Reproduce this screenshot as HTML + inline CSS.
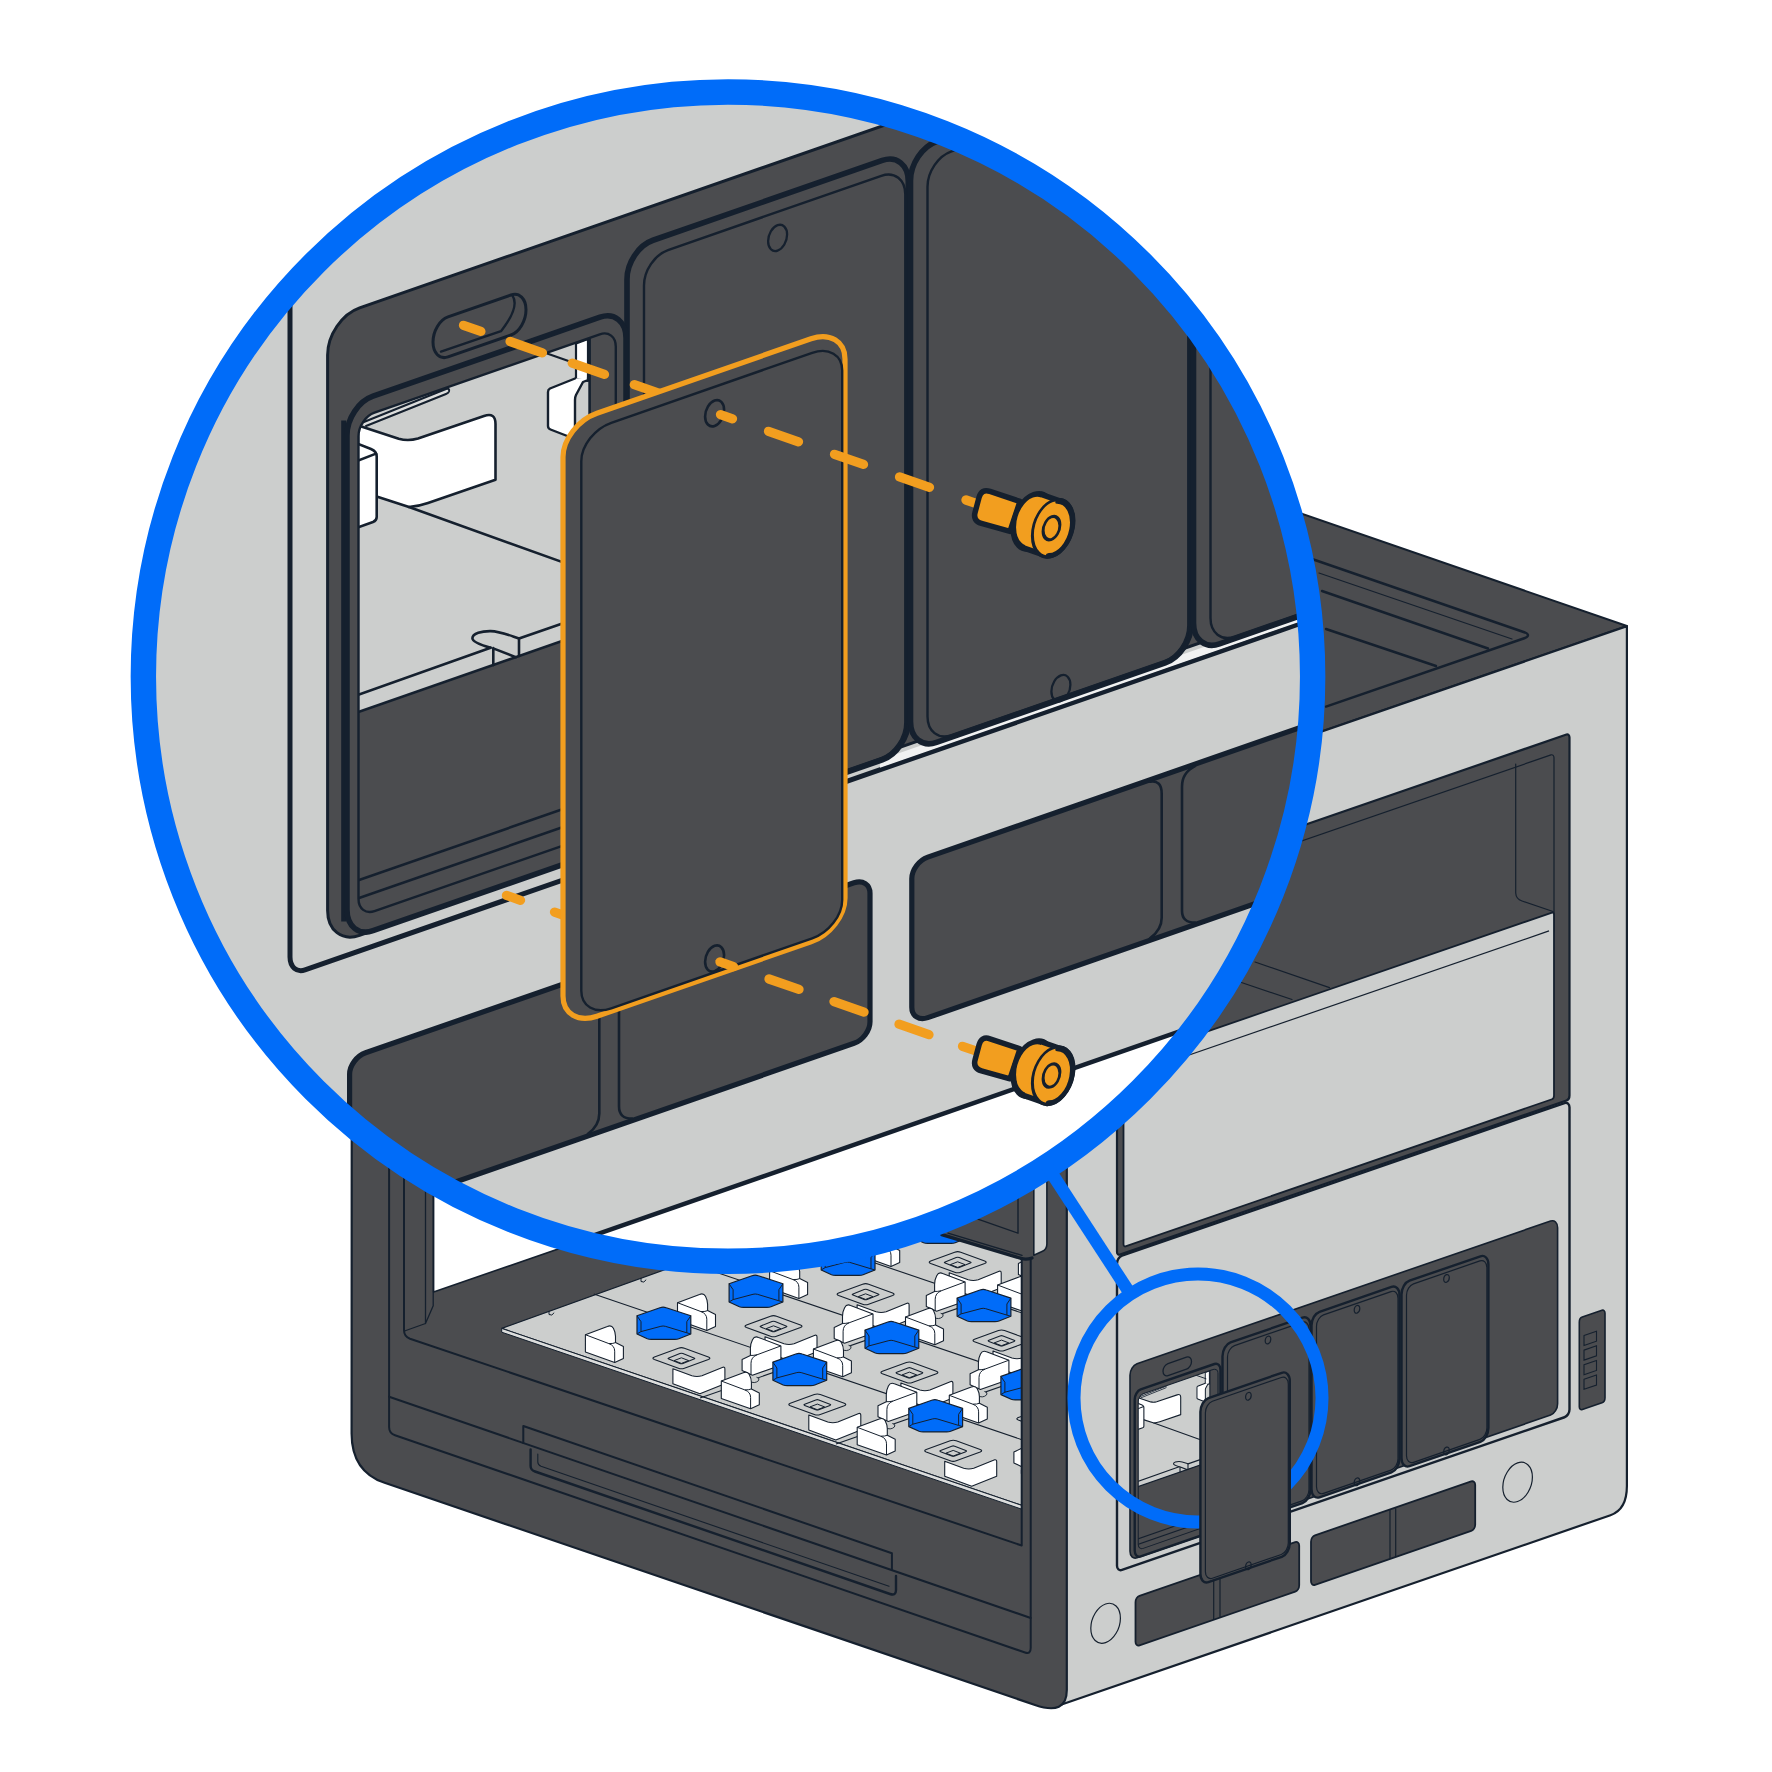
<!DOCTYPE html>
<html><head><meta charset="utf-8"><title>Remove filler</title>
<style>html,body{margin:0;padding:0;background:#fff;font-family:"Liberation Sans",sans-serif}svg{display:block}</style>
</head><body>
<svg width="1772" height="1772" viewBox="0 0 1772 1772">
<rect width="1772" height="1772" fill="#fff"/>
<defs><clipPath id="bclip"><rect x="358.5" y="543" width="257.3" height="498.5" rx="16" ry="18"/></clipPath></defs>
<polygon points="912.7,379.4 1626.9,626.0 1066.8,819.4 352.0,572.8" fill="#4b4c4f" stroke="#15202e" stroke-width="2" stroke-linejoin="round" />
<path d="M1312,559 L1525,632.5 Q1531,635 1525,638 L1326,706.6" fill="none" stroke="#15202e" stroke-width="2.4" stroke-linejoin="round" stroke-linecap="round" vector-effect="non-scaling-stroke" />
<path d="M1319,573 L1512,639" fill="none" stroke="#15202e" stroke-width="1.2" stroke-linejoin="round" stroke-linecap="round" vector-effect="non-scaling-stroke" />
<path d="M1322,591 L1488,648.5" fill="none" stroke="#15202e" stroke-width="2.4" stroke-linejoin="round" stroke-linecap="round" vector-effect="non-scaling-stroke" />
<path d="M1326,629 L1436,666" fill="none" stroke="#15202e" stroke-width="2.4" stroke-linejoin="round" stroke-linecap="round" vector-effect="non-scaling-stroke" />
<path d="M1066.8,819.4 L1626.9,626.2 L1626.9,1486 Q1626.9,1509.5 1610.5,1515.2 L1058,1705.8 Z" fill="#cccecd" stroke="#15202e" stroke-width="2.2" stroke-linejoin="round" stroke-linecap="round" vector-effect="non-scaling-stroke" />
<g transform="matrix(1,-0.345,0,1,0,0)">
<rect x="1117.0" y="1275.0" width="452.5" height="366.0" rx="3" ry="4" fill="#4b4c4f" stroke="#15202e" stroke-width="2.2" vector-effect="non-scaling-stroke" />
<rect x="1123.5" y="1290.0" width="430.5" height="180.0" rx="3" ry="4" fill="none" stroke="#15202e" stroke-width="1.2" vector-effect="non-scaling-stroke" />
<rect x="1123.5" y="1448.0" width="430.5" height="186.7" rx="2" ry="3" fill="#cccecd" stroke="#15202e" stroke-width="1.8" vector-effect="non-scaling-stroke" />
<line x1="1124.0" y1="1465.3" x2="1549.0" y2="1465.3" stroke="#15202e" stroke-width="1.2" vector-effect="non-scaling-stroke" />
<rect x="1117.0" y="1642.8" width="452.5" height="314.2" rx="5" ry="6" fill="#cccecd" stroke="#15202e" stroke-width="2.4" vector-effect="non-scaling-stroke" />
<rect x="1130.0" y="1756.0" width="427.6" height="194.0" rx="7" ry="9" fill="#4b4c4f" stroke="#15202e" stroke-width="1.6" vector-effect="non-scaling-stroke" />
<rect x="1222.5" y="1767.0" width="88.0" height="185.5" rx="8" ry="11" fill="#4b4c4f" stroke="#15202e" stroke-width="2.4" vector-effect="non-scaling-stroke" /><rect x="1227.5" y="1771.5" width="81.5" height="178.5" rx="7" ry="9" fill="none" stroke="#15202e" stroke-width="1.2" vector-effect="non-scaling-stroke" /><ellipse cx="1268.0" cy="1777.5" rx="2.8" ry="3.8" fill="none" stroke="#15202e" stroke-width="1.2" vector-effect="non-scaling-stroke" /><ellipse cx="1268.0" cy="1950.0" rx="2.8" ry="3.8" fill="none" stroke="#15202e" stroke-width="1.2" vector-effect="non-scaling-stroke" />
<rect x="1311.5" y="1767.0" width="88.0" height="185.5" rx="8" ry="11" fill="#4b4c4f" stroke="#15202e" stroke-width="2.4" vector-effect="non-scaling-stroke" /><rect x="1316.5" y="1771.5" width="81.5" height="178.5" rx="7" ry="9" fill="none" stroke="#15202e" stroke-width="1.2" vector-effect="non-scaling-stroke" /><ellipse cx="1357.0" cy="1777.5" rx="2.8" ry="3.8" fill="none" stroke="#15202e" stroke-width="1.2" vector-effect="non-scaling-stroke" /><ellipse cx="1357.0" cy="1950.0" rx="2.8" ry="3.8" fill="none" stroke="#15202e" stroke-width="1.2" vector-effect="non-scaling-stroke" />
<rect x="1401.5" y="1767.0" width="86.9" height="185.5" rx="8" ry="11" fill="#4b4c4f" stroke="#15202e" stroke-width="2.4" vector-effect="non-scaling-stroke" /><rect x="1406.5" y="1771.5" width="80.4" height="178.5" rx="7" ry="9" fill="none" stroke="#15202e" stroke-width="1.2" vector-effect="non-scaling-stroke" /><ellipse cx="1446.5" cy="1777.5" rx="2.8" ry="3.8" fill="none" stroke="#15202e" stroke-width="1.2" vector-effect="non-scaling-stroke" /><ellipse cx="1446.5" cy="1950.0" rx="2.8" ry="3.8" fill="none" stroke="#15202e" stroke-width="1.2" vector-effect="non-scaling-stroke" />
<rect x="1134.7" y="1783.0" width="85.8" height="167.0" rx="6" ry="8" fill="#4b4c4f" stroke="#15202e" stroke-width="2.4" vector-effect="non-scaling-stroke" />
</g>
<g transform="translate(1027.1,1265.9) scale(0.31)">
<g transform="matrix(1,-0.348,0,1,0,0)">
<g clip-path="url(#bclip)">
<rect x="350" y="530" width="280" height="306.6" fill="#cccecd"/>
<rect x="350" y="836.6" width="280" height="230" fill="#4b4c4f"/>
<line x1="350.0" y1="836.6" x2="630.0" y2="836.6" stroke="#15202e" stroke-width="1.092" vector-effect="non-scaling-stroke" />
<line x1="350.0" y1="1005.0" x2="630.0" y2="1005.0" stroke="#15202e" stroke-width="1.092" vector-effect="non-scaling-stroke" />
<line x1="350.0" y1="1023.0" x2="630.0" y2="1023.0" stroke="#15202e" stroke-width="1.092" vector-effect="non-scaling-stroke" />
</g></g>
<g clip-path="url(#bclip)" transform="matrix(1,-0.348,0,1,0,0)"><g transform="matrix(1,0.348,0,1,0,0)">
<path d="M362,422.8 L446,389 Q450,388 449,391.5 Q448.5,393 446,394 L366,426" fill="#dcdddc" stroke="#15202e" stroke-width="0.84" stroke-linejoin="round" stroke-linecap="round" vector-effect="non-scaling-stroke" />
<path d="M360.5,426.2 L398.7,438.7 Q408,441.5 418,438.5 L484,416 Q495.5,412 495.5,424 L495.5,479.8 L428,503 Q418,506.5 409,507 L377.4,496.7 L358,490 L358,426 Z" fill="#ffffff" stroke="#15202e" stroke-width="1.092" stroke-linejoin="round" stroke-linecap="round" vector-effect="non-scaling-stroke" />
<path d="M356,443 L371,449 Q376.7,451.3 376.7,456.5 L376.7,517 Q376.7,520.5 373,522 L356,528 Z" fill="#ffffff" stroke="#15202e" stroke-width="1.092" stroke-linejoin="round" stroke-linecap="round" vector-effect="non-scaling-stroke" />
<path d="M357,461 L376,453.6" fill="none" stroke="#15202e" stroke-width="1.092" stroke-linejoin="round" stroke-linecap="round" vector-effect="non-scaling-stroke" />
<path d="M409,507 L575,566.6" fill="none" stroke="#15202e" stroke-width="1.092" stroke-linejoin="round" stroke-linecap="round" vector-effect="non-scaling-stroke" />
<path d="M576,343.5 L588,339 L588,381 L576,379 Z" fill="#ffffff" stroke="#15202e" stroke-width="0.924" stroke-linejoin="round" stroke-linecap="round" vector-effect="non-scaling-stroke" />
<path d="M575,378.5 L550,388.5 Q548,389.5 548,392 L548,426 Q548,428.5 550.5,429.5 L575,439 L575,400 Q575,397 576,395 L583,382 L588,380 L588,378" fill="#ffffff" stroke="#15202e" stroke-width="1.008" stroke-linejoin="round" stroke-linecap="round" vector-effect="non-scaling-stroke" />
<path d="M490.6,647.7 C481,645 472.4,642 472.4,638.2 C472.4,633 482,631 490.6,631.1 C500,631.3 506,634 519,638.6 V656 M493.3,648.1 V665.1 M494.5,648.9 L515.8,657.2" fill="none" stroke="#15202e" stroke-width="1.092" stroke-linejoin="round" stroke-linecap="round" vector-effect="non-scaling-stroke" />
<path d="M350,697.7 L490.6,647.7 M519,638.6 L600,610.4" fill="none" stroke="#15202e" stroke-width="1.092" stroke-linejoin="round" stroke-linecap="round" vector-effect="non-scaling-stroke" />
<path d="M540,351 L577,364" fill="none" stroke="#15202e" stroke-width="0.924" stroke-linejoin="round" stroke-linecap="round" vector-effect="non-scaling-stroke" />
</g></g>
<g clip-path="url(#bclip)" transform="matrix(1,-0.348,0,1,0,0)">
<rect x="589.6" y="500" width="40" height="600" fill="#4b4c4f"/>
<line x1="589.6" y1="500.0" x2="589.6" y2="1100.0" stroke="#15202e" stroke-width="1.092" vector-effect="non-scaling-stroke" />
</g>
<g transform="matrix(1,-0.348,0,1,0,0)">
<rect x="358.5" y="543.0" width="257.3" height="498.5" rx="16" ry="18" fill="none" stroke="#15202e" stroke-width="1.008" vector-effect="non-scaling-stroke" />
</g>
</g>
<g transform="matrix(1,-0.345,0,1,0,0)">
<rect x="1163.0" y="1766.5" width="28.5" height="12.0" rx="5" ry="6" fill="#4b4c4f" stroke="#15202e" stroke-width="1.3" vector-effect="non-scaling-stroke" />
<rect x="1135.5" y="1989.0" width="163.7" height="49.5" rx="4" ry="5" fill="#4b4c4f" stroke="#15202e" stroke-width="1.8" vector-effect="non-scaling-stroke" />
<rect x="1311.0" y="1989.0" width="164.2" height="49.5" rx="4" ry="5" fill="#4b4c4f" stroke="#15202e" stroke-width="1.8" vector-effect="non-scaling-stroke" />
<path d="M1213.7,1990 V2037.5 M1220,1990 V2037.5" fill="none" stroke="#15202e" stroke-width="1.2" stroke-linejoin="round" stroke-linecap="round" vector-effect="non-scaling-stroke" />
<path d="M1390,1990 V2037.5 M1395.7,1990 V2037.5" fill="none" stroke="#15202e" stroke-width="1.2" stroke-linejoin="round" stroke-linecap="round" vector-effect="non-scaling-stroke" />
<ellipse cx="1105.6" cy="2004.7" rx="14.8" ry="19.3" fill="#cccecd" stroke="#15202e" stroke-width="1.2" vector-effect="non-scaling-stroke" />
<ellipse cx="1517.6" cy="2005.8" rx="14.8" ry="19.3" fill="#cccecd" stroke="#15202e" stroke-width="1.2" vector-effect="non-scaling-stroke" />
<rect x="1579.3" y="1863.0" width="25.7" height="92.5" rx="3" ry="4" fill="#4b4c4f" stroke="#15202e" stroke-width="1.6" vector-effect="non-scaling-stroke" />
<rect x="1584.0" y="1882.0" width="12.5" height="10.0" rx="0" ry="0" fill="none" stroke="#15202e" stroke-width="1.1" vector-effect="non-scaling-stroke" />
<rect x="1584.0" y="1896.6" width="12.5" height="10.0" rx="0" ry="0" fill="none" stroke="#15202e" stroke-width="1.1" vector-effect="non-scaling-stroke" />
<rect x="1584.0" y="1911.2" width="12.5" height="10.0" rx="0" ry="0" fill="none" stroke="#15202e" stroke-width="1.1" vector-effect="non-scaling-stroke" />
<rect x="1584.0" y="1925.8" width="12.5" height="10.0" rx="0" ry="0" fill="none" stroke="#15202e" stroke-width="1.1" vector-effect="non-scaling-stroke" />
</g>
<path d="M1515.7,764 L1515.7,893 Q1516,899 1522,901 L1553,911.5" fill="none" stroke="#15202e" stroke-width="1.2" stroke-linejoin="round" stroke-linecap="round" vector-effect="non-scaling-stroke" />
<path d="M1255,962 L1329.5,987.6 M1241.4,982.5 L1292,999.5" fill="none" stroke="#15202e" stroke-width="1.2" stroke-linejoin="round" stroke-linecap="round" vector-effect="non-scaling-stroke" />
<path d="M352,572.8 L1066.8,819.4 L1066.8,1690 Q1066.8,1716 1035,1705 L384.6,1482.8 Q351.6,1471.5 351.6,1433.4 Z" fill="#4b4c4f" stroke="#15202e" stroke-width="2.2" stroke-linejoin="round" stroke-linecap="round" vector-effect="non-scaling-stroke" />
<polygon points="433.6,1100.0 433.6,1292.0 720.0,1193.0 720.0,1100.0" fill="#ffffff" stroke="#15202e" stroke-width="1.6" stroke-linejoin="round" />
<clipPath id="openclip"><polygon points="404,1000 1021.7,1000 1021.7,1545.5 408,1338"/></clipPath>
<g clip-path="url(#openclip)">
<polygon points="501.7,1328.4 760.0,1235.4 1030.0,1235.0 1030.0,1508.2" fill="#cccecd" stroke="#15202e" stroke-width="1.2" stroke-linejoin="round" />
<polygon points="501.7,1328.4 1030.0,1508.2 1030.0,1512.0 501.7,1332.2" fill="#dcdddc" stroke="#15202e" stroke-width="1.0" stroke-linejoin="round" />
<line x1="593.8" y1="1294.1" x2="1033.8" y2="1443.8" stroke="#15202e" stroke-width="1.1" vector-effect="non-scaling-stroke" />
<line x1="686.0" y1="1262.0" x2="1126.0" y2="1411.7" stroke="#15202e" stroke-width="1.1" vector-effect="non-scaling-stroke" />
<line x1="778.0" y1="1230.0" x2="1218.0" y2="1379.7" stroke="#15202e" stroke-width="1.1" vector-effect="non-scaling-stroke" />
<line x1="700.0" y1="1398.0" x2="1030.0" y2="1283.2" stroke="#15202e" stroke-width="1.1" vector-effect="non-scaling-stroke" />
<line x1="836.0" y1="1444.0" x2="1166.0" y2="1329.2" stroke="#15202e" stroke-width="1.1" vector-effect="non-scaling-stroke" />
<path d="M549,1311.5 v3 q3,2 5,-1.5 M641,1278.5 v3 q3,2 5,-1.5" fill="none" stroke="#15202e" stroke-width="1.0" stroke-linejoin="round" stroke-linecap="round" vector-effect="non-scaling-stroke" />
<defs>
<g id="sq"><path d="M-27,-1.2 L-3,-10 Q0,-11.1 3,-10 L27,-1.2 Q30,0 27,1.2 L3,10 Q0,11.1 -3,10 L-27,1.2 Q-30,0 -27,-1.2 Z" fill="none" stroke="#15202e" stroke-width="1.1"/><path d="M-12.6,-0.3 L-1.5,-4.6 Q0,-5.2 1.5,-4.6 L12.6,-0.3 Q14.2,0.3 12.6,0.9 L1.5,5.2 Q0,5.8 -1.5,5.2 L-12.6,0.9 Q-14.2,0.3 -12.6,-0.3 Z" fill="none" stroke="#15202e" stroke-width="1.1"/><path d="M-7.3,2.4 L0,-0.4 L7.3,2.4 L0,5.2 Z" fill="none" stroke="#15202e" stroke-width="1.0" stroke-linejoin="round"/></g>
<g id="hex"><path d="M-26.9,-7.9 L-4,-16 Q-0.8,-17.2 2.4,-16 L26.9,-7.9 V10.3 L15,15 Q13.4,15.6 11,15.6 H-12.6 Q-15,15.6 -16.6,15 L-26.9,10.3 Z" fill="#006cf9" stroke="#15202e" stroke-width="1.2" stroke-linejoin="round"/><path d="M-26.9,-7.9 L-22.9,-2 V7.9 L-3,2.6 Q-0.8,2 1.4,2.6 L22.9,9.1 V-2 L26.9,-7.9 M-22.9,7.9 L-26.5,10 M22.9,9.1 L26.5,10.2" fill="none" stroke="#15202e" stroke-width="1.0" stroke-linejoin="round"/></g>
<g id="w1"><path d="M-19,-9.5 L3,-17.8 Q7,-19.5 9,-16 Q11.1,-12 11.1,-8 V-1.6 L19,2.4 V14.2 L10.3,18.2 L-19,7.9 Z" fill="#fff" stroke="#15202e" stroke-width="1.1" stroke-linejoin="round"/><path d="M-19,-9.5 L4.5,-0.6 Q10.3,1.5 10.3,7 V18.2 M4.5,-0.6 Q9,-0.5 11.1,-1.6" fill="none" stroke="#15202e" stroke-width="1.0"/></g>
<g id="w3"><path d="M19.4,-10.3 L-3,-18.8 Q-7,-20.5 -9,-16.5 Q-11.1,-12.5 -11.1,-8 V-0.8 L-19.4,3.2 V14.2 L-9.1,19 L19.4,9.1 Z" fill="#fff" stroke="#15202e" stroke-width="1.1" stroke-linejoin="round"/><path d="M19.4,-10.3 L-4.5,-1.4 Q-10.5,1 -10.5,7 V18.3 M-4.5,-1.4 Q-9,-0.5 -11.1,-0.8" fill="none" stroke="#15202e" stroke-width="1.0"/><path d="M-12,21 v4 q5,3 9,-0.5 q2,-2.5 -2,-3.5" fill="#cccecd" stroke="#15202e" stroke-width="0.9"/></g>
<g id="w2"><path d="M-26,-10.5 L-7,-3.5 Q-2,-2 3,-3.5 L24,-12 Q26,-12.5 26,-10 V4.5 L1,14.5 L-26,4.5 Z" fill="#fff" stroke="#15202e" stroke-width="1.1" stroke-linejoin="round"/></g>
</defs>
<use href="#hex" x="1032.3" y="1195.7"/>
<use href="#w1" x="972.8" y="1216.2"/>
<use href="#hex" x="940.2" y="1227.7"/>
<use href="#sq" x="1049.8" y="1230.2"/>
<use href="#w1" x="880.7" y="1248.2"/>
<use href="#w2" x="1067.3" y="1251.2"/>
<use href="#w3" x="1037.8" y="1260.2"/>
<use href="#hex" x="848.1" y="1259.7"/>
<use href="#sq" x="957.7" y="1262.2"/>
<use href="#hex" x="1076.1" y="1274.0"/>
<use href="#w1" x="788.6" y="1280.2"/>
<use href="#w2" x="975.2" y="1283.2"/>
<use href="#w3" x="945.7" y="1292.2"/>
<use href="#hex" x="756.0" y="1291.7"/>
<use href="#sq" x="865.6" y="1294.2"/>
<use href="#w1" x="1016.6" y="1294.5"/>
<use href="#hex" x="984.0" y="1306.0"/>
<use href="#sq" x="1093.6" y="1308.5"/>
<use href="#w1" x="696.5" y="1312.2"/>
<use href="#w2" x="883.1" y="1315.2"/>
<use href="#w3" x="853.6" y="1324.2"/>
<use href="#hex" x="663.9" y="1323.7"/>
<use href="#sq" x="773.5" y="1326.2"/>
<use href="#w1" x="924.5" y="1326.5"/>
<use href="#w2" x="1111.1" y="1329.5"/>
<use href="#w3" x="1081.6" y="1338.5"/>
<use href="#hex" x="891.9" y="1338.0"/>
<use href="#sq" x="1001.5" y="1340.5"/>
<use href="#w1" x="604.4" y="1344.2"/>
<use href="#w2" x="791.0" y="1347.2"/>
<use href="#w3" x="761.5" y="1356.2"/>
<use href="#sq" x="681.4" y="1358.2"/>
<use href="#w1" x="832.4" y="1358.5"/>
<use href="#w2" x="1019.0" y="1361.5"/>
<use href="#w3" x="989.5" y="1370.5"/>
<use href="#hex" x="799.8" y="1370.0"/>
<use href="#sq" x="909.4" y="1372.5"/>
<use href="#w2" x="698.9" y="1379.2"/>
<use href="#hex" x="1027.8" y="1384.3"/>
<use href="#w1" x="740.3" y="1390.5"/>
<use href="#w2" x="926.9" y="1393.5"/>
<use href="#w3" x="897.4" y="1402.5"/>
<use href="#sq" x="817.3" y="1404.5"/>
<use href="#w1" x="968.3" y="1404.8"/>
<use href="#hex" x="935.7" y="1416.3"/>
<use href="#sq" x="1045.3" y="1418.8"/>
<use href="#w2" x="834.8" y="1425.5"/>
<use href="#w1" x="876.2" y="1436.8"/>
<use href="#w2" x="1062.8" y="1439.8"/>
<use href="#w3" x="1033.3" y="1448.8"/>
<use href="#sq" x="953.2" y="1450.8"/>
<use href="#w2" x="970.7" y="1471.8"/>
</g>
<polygon points="941.7,1234.6 1022.0,1258.8 1032.0,1257.5 1032.0,1170.0 941.0,1170.0" fill="#4b4c4f" stroke="none" stroke-width="0" stroke-linejoin="round" />
<path d="M941.7,1234.6 L1021,1258.4 Q1026,1260 1032,1258" fill="none" stroke="#15202e" stroke-width="3.2" stroke-linejoin="round" stroke-linecap="round" vector-effect="non-scaling-stroke" />
<path d="M948,1233.2 L1022,1255.4" fill="none" stroke="#15202e" stroke-width="1.4" stroke-linejoin="round" stroke-linecap="round" vector-effect="non-scaling-stroke" />
<path d="M977.9,1219.2 L1018,1233.2 V1170" fill="none" stroke="#15202e" stroke-width="1.4" stroke-linejoin="round" stroke-linecap="round" vector-effect="non-scaling-stroke" />
<path d="M404,1050 V1330 Q404,1336.5 410,1338.7 L1021.7,1545.5 V1260" fill="none" stroke="#15202e" stroke-width="2" stroke-linejoin="round" stroke-linecap="round" vector-effect="non-scaling-stroke" />
<path d="M425.5,1050 V1323.5 L404.5,1331 M433.2,1050 V1305.7 L425.5,1323.5" fill="none" stroke="#15202e" stroke-width="1.3" stroke-linejoin="round" stroke-linecap="round" vector-effect="non-scaling-stroke" />
<path d="M389.1,1050 V1427 Q389.1,1433.2 395,1435.2 L1025,1652.5 Q1030.7,1654.5 1030.7,1648 V1259.5" fill="none" stroke="#15202e" stroke-width="2" stroke-linejoin="round" stroke-linecap="round" vector-effect="non-scaling-stroke" />
<path d="M389.1,1396.7 L1030.7,1618" fill="none" stroke="#15202e" stroke-width="2" stroke-linejoin="round" stroke-linecap="round" vector-effect="non-scaling-stroke" />
<path d="M523.3,1443 V1426 L891.9,1553.2 V1570" fill="none" stroke="#15202e" stroke-width="2" stroke-linejoin="round" stroke-linecap="round" vector-effect="non-scaling-stroke" />
<path d="M530.6,1449.4 V1466 Q530.6,1470 535,1471.5 L890,1594 Q896,1596 896,1590 V1576" fill="none" stroke="#15202e" stroke-width="2.4" stroke-linejoin="round" stroke-linecap="round" vector-effect="non-scaling-stroke" />
<path d="M537.8,1454 V1462 Q537.8,1465 541,1466.2 L889,1586.3" fill="none" stroke="#15202e" stroke-width="1.1" stroke-linejoin="round" stroke-linecap="round" vector-effect="non-scaling-stroke" />
<path d="M1033.8,1170 V1255.3 L1042,1251.5 Q1046.9,1249.5 1046.9,1244 V1170 Z" fill="#cccecd" stroke="#15202e" stroke-width="1.6" stroke-linejoin="round" stroke-linecap="round" vector-effect="non-scaling-stroke" />
<clipPath id="bigclip"><circle cx="728" cy="676.6" r="576"/></clipPath>
<g clip-path="url(#bigclip)">
<circle cx="728" cy="676.6" r="580" fill="#cccecd"/>
<g transform="matrix(1,-0.348,0,1,0,0)">
<rect x="0" y="1442" width="1500" height="600" fill="#fff"/>
<line x1="0.0" y1="1442.0" x2="1500.0" y2="1442.0" stroke="#15202e" stroke-width="4.5" vector-effect="non-scaling-stroke" />
<rect x="290.0" y="250.0" width="1310.0" height="826.0" rx="15" ry="18" fill="none" stroke="#15202e" stroke-width="5.0" vector-effect="non-scaling-stroke" />
<rect x="880" y="1066" width="700" height="8" fill="#f1f2f2"/>
<rect x="327.6" y="433.0" width="1272.4" height="627.5" rx="32" ry="36" fill="#4b4c4f" stroke="#15202e" stroke-width="3" vector-effect="non-scaling-stroke" />
<rect x="433.0" y="472.8" width="93.0" height="40.0" rx="15" ry="20" fill="#4b4c4f" stroke="#15202e" stroke-width="3" vector-effect="non-scaling-stroke" />
<path d="M512.5,474 Q520,488 501,505.5 L441,505" fill="none" stroke="#15202e" stroke-width="2.4" stroke-linejoin="round" stroke-linecap="round" vector-effect="non-scaling-stroke" />
<rect x="627.0" y="467.5" width="281.3" height="599.3" rx="26" ry="30" fill="#4b4c4f" stroke="#15202e" stroke-width="5.6" vector-effect="non-scaling-stroke" /><rect x="644.0" y="482.5" width="261.3" height="582.3" rx="24" ry="27" fill="none" stroke="#15202e" stroke-width="2.4" vector-effect="non-scaling-stroke" /><ellipse cx="777.6" cy="508.5" rx="9.5" ry="12.7" fill="none" stroke="#15202e" stroke-width="2.3" vector-effect="non-scaling-stroke" /><ellipse cx="777.6" cy="1055.8" rx="9.5" ry="12.7" fill="none" stroke="#15202e" stroke-width="2.3" vector-effect="non-scaling-stroke" />
<rect x="910.5" y="467.5" width="280.8" height="600.8" rx="26" ry="30" fill="#4b4c4f" stroke="#15202e" stroke-width="5.6" vector-effect="non-scaling-stroke" /><rect x="927.5" y="482.5" width="260.8" height="583.8" rx="24" ry="27" fill="none" stroke="#15202e" stroke-width="2.4" vector-effect="non-scaling-stroke" /><ellipse cx="1060.9" cy="508.5" rx="9.5" ry="12.7" fill="none" stroke="#15202e" stroke-width="2.3" vector-effect="non-scaling-stroke" /><ellipse cx="1060.9" cy="1057.3" rx="9.5" ry="12.7" fill="none" stroke="#15202e" stroke-width="2.3" vector-effect="non-scaling-stroke" />
<rect x="1193.5" y="467.5" width="280.5" height="600.8" rx="26" ry="30" fill="#4b4c4f" stroke="#15202e" stroke-width="5.6" vector-effect="non-scaling-stroke" /><rect x="1210.5" y="482.5" width="260.5" height="583.8" rx="24" ry="27" fill="none" stroke="#15202e" stroke-width="2.4" vector-effect="non-scaling-stroke" /><ellipse cx="1343.8" cy="508.5" rx="9.5" ry="12.7" fill="none" stroke="#15202e" stroke-width="2.3" vector-effect="non-scaling-stroke" /><ellipse cx="1343.8" cy="1057.3" rx="9.5" ry="12.7" fill="none" stroke="#15202e" stroke-width="2.3" vector-effect="non-scaling-stroke" />
<line x1="343.7" y1="540.0" x2="343.7" y2="1041.0" stroke="#15202e" stroke-width="5" vector-effect="non-scaling-stroke" />
<rect x="347.0" y="526.0" width="279.0" height="534.5" rx="26" ry="30" fill="#4b4c4f" stroke="#15202e" stroke-width="5.5" vector-effect="non-scaling-stroke" />
</g>
<g transform="matrix(1,-0.348,0,1,0,0)">
<g clip-path="url(#bclip)">
<rect x="350" y="530" width="280" height="306.6" fill="#cccecd"/>
<rect x="350" y="836.6" width="280" height="230" fill="#4b4c4f"/>
<line x1="350.0" y1="836.6" x2="630.0" y2="836.6" stroke="#15202e" stroke-width="2.6" vector-effect="non-scaling-stroke" />
<line x1="350.0" y1="1005.0" x2="630.0" y2="1005.0" stroke="#15202e" stroke-width="2.6" vector-effect="non-scaling-stroke" />
<line x1="350.0" y1="1023.0" x2="630.0" y2="1023.0" stroke="#15202e" stroke-width="2.6" vector-effect="non-scaling-stroke" />
</g></g>
<g clip-path="url(#bclip)" transform="matrix(1,-0.348,0,1,0,0)"><g transform="matrix(1,0.348,0,1,0,0)">
<path d="M362,422.8 L446,389 Q450,388 449,391.5 Q448.5,393 446,394 L366,426" fill="#dcdddc" stroke="#15202e" stroke-width="2.0" stroke-linejoin="round" stroke-linecap="round" vector-effect="non-scaling-stroke" />
<path d="M360.5,426.2 L398.7,438.7 Q408,441.5 418,438.5 L484,416 Q495.5,412 495.5,424 L495.5,479.8 L428,503 Q418,506.5 409,507 L377.4,496.7 L358,490 L358,426 Z" fill="#ffffff" stroke="#15202e" stroke-width="2.6" stroke-linejoin="round" stroke-linecap="round" vector-effect="non-scaling-stroke" />
<path d="M356,443 L371,449 Q376.7,451.3 376.7,456.5 L376.7,517 Q376.7,520.5 373,522 L356,528 Z" fill="#ffffff" stroke="#15202e" stroke-width="2.6" stroke-linejoin="round" stroke-linecap="round" vector-effect="non-scaling-stroke" />
<path d="M357,461 L376,453.6" fill="none" stroke="#15202e" stroke-width="2.6" stroke-linejoin="round" stroke-linecap="round" vector-effect="non-scaling-stroke" />
<path d="M409,507 L575,566.6" fill="none" stroke="#15202e" stroke-width="2.6" stroke-linejoin="round" stroke-linecap="round" vector-effect="non-scaling-stroke" />
<path d="M576,343.5 L588,339 L588,381 L576,379 Z" fill="#ffffff" stroke="#15202e" stroke-width="2.2" stroke-linejoin="round" stroke-linecap="round" vector-effect="non-scaling-stroke" />
<path d="M575,378.5 L550,388.5 Q548,389.5 548,392 L548,426 Q548,428.5 550.5,429.5 L575,439 L575,400 Q575,397 576,395 L583,382 L588,380 L588,378" fill="#ffffff" stroke="#15202e" stroke-width="2.4" stroke-linejoin="round" stroke-linecap="round" vector-effect="non-scaling-stroke" />
<path d="M490.6,647.7 C481,645 472.4,642 472.4,638.2 C472.4,633 482,631 490.6,631.1 C500,631.3 506,634 519,638.6 V656 M493.3,648.1 V665.1 M494.5,648.9 L515.8,657.2" fill="none" stroke="#15202e" stroke-width="2.6" stroke-linejoin="round" stroke-linecap="round" vector-effect="non-scaling-stroke" />
<path d="M350,697.7 L490.6,647.7 M519,638.6 L600,610.4" fill="none" stroke="#15202e" stroke-width="2.6" stroke-linejoin="round" stroke-linecap="round" vector-effect="non-scaling-stroke" />
<path d="M540,351 L577,364" fill="none" stroke="#15202e" stroke-width="2.2" stroke-linejoin="round" stroke-linecap="round" vector-effect="non-scaling-stroke" />
</g></g>
<g clip-path="url(#bclip)" transform="matrix(1,-0.348,0,1,0,0)">
<rect x="589.6" y="500" width="40" height="600" fill="#4b4c4f"/>
<line x1="589.6" y1="500.0" x2="589.6" y2="1100.0" stroke="#15202e" stroke-width="2.6" vector-effect="non-scaling-stroke" />
</g>
<g transform="matrix(1,-0.348,0,1,0,0)">
<rect x="358.5" y="543.0" width="257.3" height="498.5" rx="16" ry="18" fill="none" stroke="#15202e" stroke-width="2.4" vector-effect="non-scaling-stroke" />
</g>
<g transform="matrix(1,-0.348,0,1,0,0)">
<rect x="349.6" y="1180.0" width="520.4" height="160.5" rx="16" ry="16" fill="#4b4c4f" stroke="#15202e" stroke-width="5.2" vector-effect="non-scaling-stroke" />
<rect x="911.8" y="1180.0" width="688.2" height="160.5" rx="16" ry="16" fill="#4b4c4f" stroke="#15202e" stroke-width="5.2" vector-effect="non-scaling-stroke" />
<path d="M588,1182 Q599.3,1184 599.3,1198 V1322 Q599.3,1334 588,1338.5 M632,1182 Q619,1184 619,1198 V1322 Q619,1334 632,1338.5" fill="none" stroke="#15202e" stroke-width="2.6" stroke-linejoin="round" stroke-linecap="round" vector-effect="non-scaling-stroke" />
<path d="M1150,1182 Q1161.7,1184 1161.7,1198 V1322 Q1161.7,1334 1150,1338.5 M1195,1182 Q1182,1184 1182,1198 V1322 Q1182,1334 1195,1338.5" fill="none" stroke="#15202e" stroke-width="2.6" stroke-linejoin="round" stroke-linecap="round" vector-effect="non-scaling-stroke" />
</g>
<line x1="463.5" y1="325.3" x2="480.9" y2="331.4" stroke="#f29e1f" stroke-width="9.3" stroke-linecap="round"/>
<line x1="510.1" y1="341.5" x2="542.4" y2="352.8" stroke="#f29e1f" stroke-width="9.3" stroke-linecap="round"/>
<line x1="572.2" y1="363.1" x2="604.5" y2="374.4" stroke="#f29e1f" stroke-width="9.3" stroke-linecap="round"/>
<line x1="634.3" y1="384.7" x2="680.0" y2="400.6" stroke="#f29e1f" stroke-width="9.3" stroke-linecap="round"/>
<line x1="506.5" y1="895.4" x2="520.5" y2="900.3" stroke="#f29e1f" stroke-width="9.3" stroke-linecap="round"/>
<line x1="554.5" y1="912.1" x2="590.0" y2="924.5" stroke="#f29e1f" stroke-width="9.3" stroke-linecap="round"/>
<g transform="matrix(1,-0.348,0,1,0,0)">
<rect x="563.0" y="621.0" width="282.0" height="603.0" rx="34" ry="32" fill="#4b4c4f" stroke="#f29e1f" stroke-width="5.2" vector-effect="non-scaling-stroke" />
<rect x="581.3" y="635.5" width="260.9" height="585.5" rx="30" ry="28" fill="none" stroke="#15202e" stroke-width="2.4" vector-effect="non-scaling-stroke" />
<ellipse cx="714.6" cy="661.9" rx="9.5" ry="12.7" fill="none" stroke="#15202e" stroke-width="2.6" vector-effect="non-scaling-stroke" />
<ellipse cx="714.6" cy="1207.2" rx="9.5" ry="12.7" fill="none" stroke="#15202e" stroke-width="2.6" vector-effect="non-scaling-stroke" />
</g>
<line x1="720.5" y1="414.6" x2="732.5" y2="418.8" stroke="#f29e1f" stroke-width="9.3" stroke-linecap="round"/>
<line x1="768.5" y1="431.3" x2="798.5" y2="441.8" stroke="#f29e1f" stroke-width="9.3" stroke-linecap="round"/>
<line x1="834.5" y1="454.3" x2="863.5" y2="464.4" stroke="#f29e1f" stroke-width="9.3" stroke-linecap="round"/>
<line x1="899.5" y1="476.9" x2="929.5" y2="487.3" stroke="#f29e1f" stroke-width="9.3" stroke-linecap="round"/>
<line x1="966.0" y1="500.0" x2="978.0" y2="504.2" stroke="#f29e1f" stroke-width="9.3" stroke-linecap="round"/>
<line x1="720.0" y1="961.9" x2="733.5" y2="966.6" stroke="#f29e1f" stroke-width="9.3" stroke-linecap="round"/>
<line x1="769.0" y1="979.0" x2="799.0" y2="989.4" stroke="#f29e1f" stroke-width="9.3" stroke-linecap="round"/>
<line x1="834.0" y1="1001.6" x2="864.0" y2="1012.1" stroke="#f29e1f" stroke-width="9.3" stroke-linecap="round"/>
<line x1="899.0" y1="1024.2" x2="929.0" y2="1034.7" stroke="#f29e1f" stroke-width="9.3" stroke-linecap="round"/>
<line x1="962.5" y1="1046.3" x2="978.0" y2="1051.7" stroke="#f29e1f" stroke-width="9.3" stroke-linecap="round"/>
<g transform="translate(1053.0,528.4)"><path d="M-33,-27 L-63,-37 Q-71.5,-39.8 -73.9,-31.1 L-77.9,-16.1 Q-80.3,-7.4 -71.6,-5 L-43,3 Z" fill="#f29e1f" stroke="#15202e" stroke-width="5.5" stroke-linejoin="round"/><g transform="matrix(1,-0.348,0,1,0,0)"><ellipse cx="-20" cy="-14.0" rx="19.7" ry="26.6" fill="#f29e1f" stroke="#15202e" stroke-width="5.5"/></g><path d="M-11.2,-33.8 L8.8,-26.8 L-8.8,26.8 L-28.8,19.8 Z" fill="#f29e1f"/><path d="M-11.2,-33.8 L8.8,-26.8 M-8.8,26.8 L-28.8,19.8" stroke="#15202e" stroke-width="5.5" stroke-linecap="round"/><g transform="matrix(1,-0.348,0,1,0,0)"><ellipse cx="0" cy="0" rx="20.6" ry="27.8" fill="#f29e1f" stroke="#15202e" stroke-width="3"/><path d="M5.1,-25.7 A19.7,26.6 0 0 1 -5.1,25.7" fill="none" stroke="#15202e" stroke-width="5.5" stroke-linecap="round"/><ellipse cx="-1.5" cy="-0.8" rx="8.4" ry="11.3" fill="#f29e1f" stroke="#15202e" stroke-width="3"/></g></g>
<g transform="translate(1053.0,1075.8)"><path d="M-33,-27 L-63,-37 Q-71.5,-39.8 -73.9,-31.1 L-77.9,-16.1 Q-80.3,-7.4 -71.6,-5 L-43,3 Z" fill="#f29e1f" stroke="#15202e" stroke-width="5.5" stroke-linejoin="round"/><g transform="matrix(1,-0.348,0,1,0,0)"><ellipse cx="-20" cy="-14.0" rx="19.7" ry="26.6" fill="#f29e1f" stroke="#15202e" stroke-width="5.5"/></g><path d="M-11.2,-33.8 L8.8,-26.8 L-8.8,26.8 L-28.8,19.8 Z" fill="#f29e1f"/><path d="M-11.2,-33.8 L8.8,-26.8 M-8.8,26.8 L-28.8,19.8" stroke="#15202e" stroke-width="5.5" stroke-linecap="round"/><g transform="matrix(1,-0.348,0,1,0,0)"><ellipse cx="0" cy="0" rx="20.6" ry="27.8" fill="#f29e1f" stroke="#15202e" stroke-width="3"/><path d="M5.1,-25.7 A19.7,26.6 0 0 1 -5.1,25.7" fill="none" stroke="#15202e" stroke-width="5.5" stroke-linecap="round"/><ellipse cx="-1.5" cy="-0.8" rx="8.4" ry="11.3" fill="#f29e1f" stroke="#15202e" stroke-width="3"/></g></g>
</g>
<circle cx="728" cy="676.6" r="584.65" fill="none" stroke="#006cf9" stroke-width="25.4"/>
<line x1="1047" y1="1166" x2="1131" y2="1295" stroke="#006cf9" stroke-width="12.5"/>
<circle cx="1198" cy="1398" r="124" fill="none" stroke="#006cf9" stroke-width="13"/>
<g transform="matrix(1,-0.345,0,1,0,0)">
<rect x="1200.4" y="1815.0" width="89.4" height="184.0" rx="8" ry="11" fill="#4b4c4f" stroke="#15202e" stroke-width="2.4" vector-effect="non-scaling-stroke" />
<rect x="1205.4" y="1819.5" width="82.9" height="177.0" rx="7" ry="9" fill="none" stroke="#15202e" stroke-width="1.2" vector-effect="non-scaling-stroke" />
<ellipse cx="1248.4" cy="1827.0" rx="2.8" ry="3.8" fill="none" stroke="#15202e" stroke-width="1.2" vector-effect="non-scaling-stroke" />
<ellipse cx="1248.4" cy="1996.5" rx="2.8" ry="3.8" fill="none" stroke="#15202e" stroke-width="1.2" vector-effect="non-scaling-stroke" />
</g>
</svg>
</body></html>
